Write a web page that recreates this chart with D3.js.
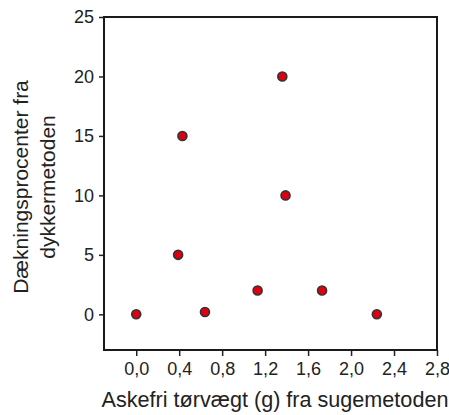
<!DOCTYPE html>
<html>
<head>
<meta charset="utf-8">
<script src="https://cdn.jsdelivr.net/npm/d3@7"></script>
<style>
  body { margin: 0; background: #fff; }
  svg { display: block; font-family: "Liberation Sans", Arial, sans-serif; }
</style>
</head>
<body>
<div id="chart"></div>
<script>
// Data
const xValues = [0.0, 0.39, 0.43, 0.64, 1.13, 1.36, 1.39, 1.73, 2.24];
const yValues = [0, 5, 15, 0.2, 2, 20, 10, 2, 0];
const xTicks = [0, 0.4, 0.8, 1.2, 1.6, 2.0, 2.4, 2.8];
const yTicks = [0, 5, 10, 15, 20, 25];
const xTitle = "Askefri tørvægt (g) fra sugemetoden";
const yTitleLines = ["Dækningsprocenter fra", "dykkermetoden"];

const W = 449, H = 415;
const margin = { top: 17, right: 12, bottom: 65, left: 104 };
const width = W - margin.left - margin.right;
const height = H - margin.top - margin.bottom;

const svg = d3.select("#chart")
  .append("svg")
  .attr("width", W)
  .attr("height", H);

const g = svg.append("g")
  .attr("transform", `translate(${margin.left},${margin.top})`);

const x = d3.scaleLinear().domain([-0.3, 2.8]).range([0, width]);
const y = d3.scaleLinear().domain([-3, 25]).range([height, 0]);

const fmt = d => d3.format(".1f")(d).replace(".", ",");

// x axis
const xAxis = g.append("g")
  .attr("transform", `translate(0,${height})`)
  .call(d3.axisBottom(x).tickValues(xTicks).tickFormat(fmt).tickSize(6).tickPadding(6));

// y axis
const yAxis = g.append("g")
  .call(d3.axisLeft(y).tickValues(yTicks).tickSize(5).tickPadding(5));

[xAxis, yAxis].forEach(a => {
  a.select(".domain").remove();
  a.selectAll("line").attr("stroke", "#222").attr("stroke-width", 1.5);
  a.selectAll("text")
    .attr("fill", "#222")
    .attr("font-size", 18)
    .attr("font-family", "'Liberation Sans', Arial, sans-serif");
});

// frame
g.append("rect")
  .attr("x", 0)
  .attr("y", 0)
  .attr("width", width)
  .attr("height", height)
  .attr("fill", "none")
  .attr("stroke", "#1a1a1a")
  .attr("stroke-width", 2);

// points
g.selectAll("circle.pt")
  .data(xValues.map((v, i) => ({ x: v, y: yValues[i] })))
  .enter()
  .append("circle")
  .attr("class", "pt")
  .attr("cx", d => x(d.x))
  .attr("cy", d => y(d.y))
  .attr("r", 4.5)
  .attr("fill", "#dd0010")
  .attr("stroke", "#333")
  .attr("stroke-width", 1.6);

// x title
svg.append("text")
  .attr("x", 275)
  .attr("y", 407)
  .attr("text-anchor", "middle")
  .attr("font-size", 21.6)
  .attr("fill", "#222")
  .text(xTitle);

// y title (two lines, rotated)
const yt = svg.append("text")
  .attr("transform", "translate(0,187) rotate(-90)")
  .attr("text-anchor", "middle")
  .attr("font-size", 21)
  .attr("fill", "#222");
yTitleLines.forEach((t, i) => {
  yt.append("tspan")
    .attr("x", 0)
    .attr("y", 28 + i * 27)
    .text(t);
});
</script>
</body>
</html>
